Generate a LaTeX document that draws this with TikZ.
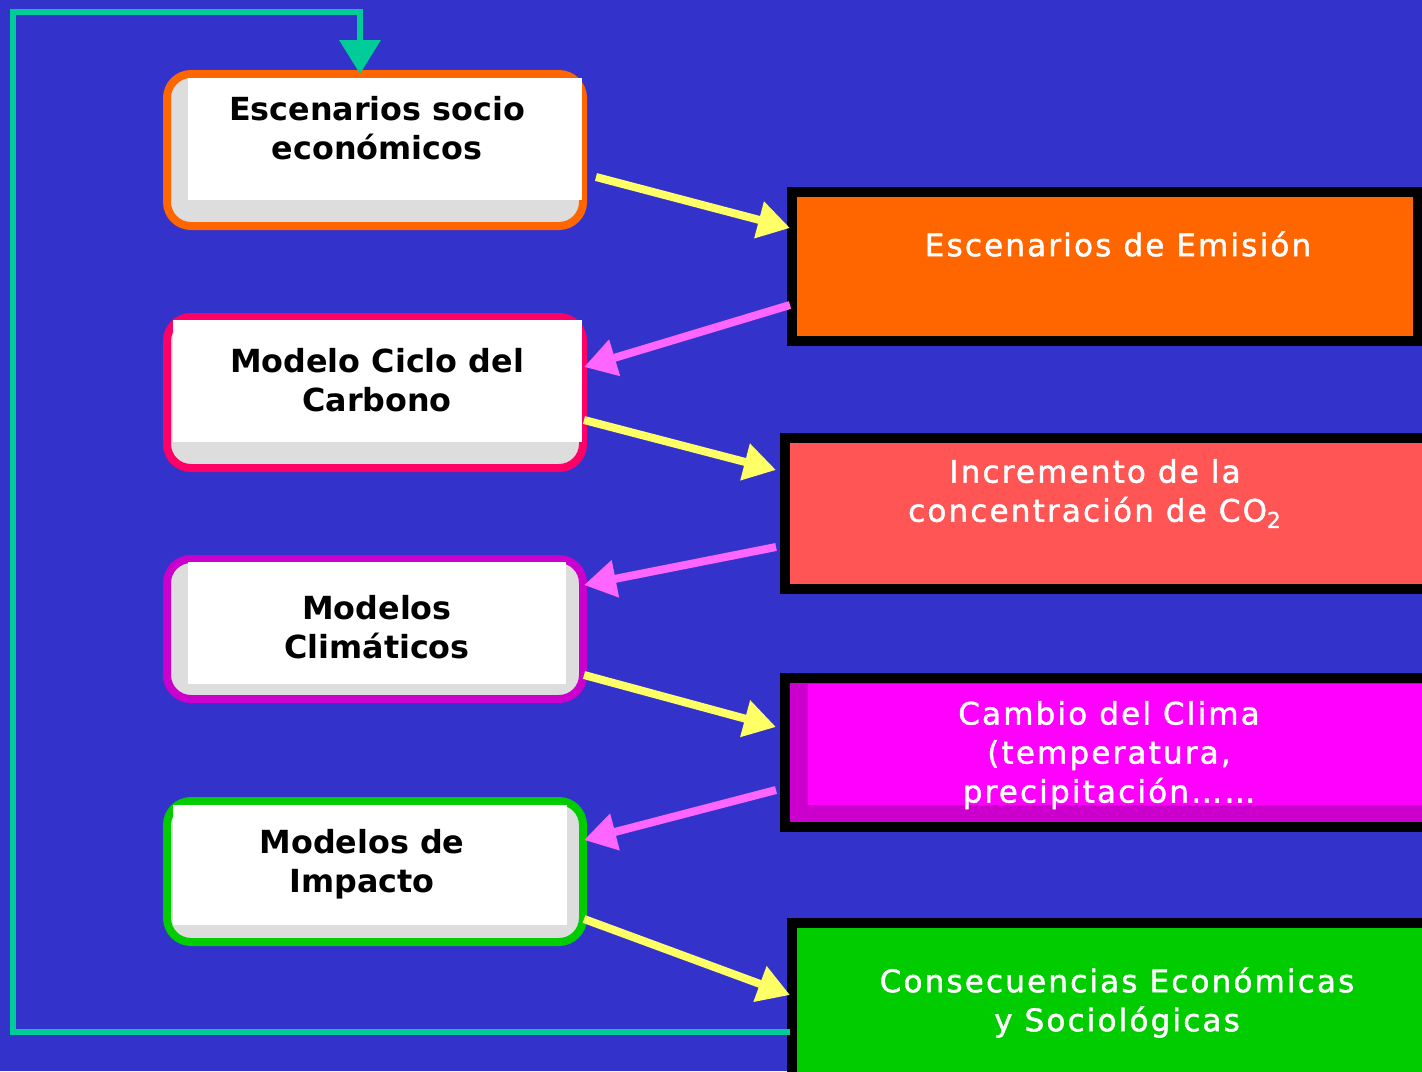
\documentclass[tikz,border=0pt]{standalone}
\usepackage{fontspec}
\usepackage{xcolor}
\usetikzlibrary{arrows.meta,calc}
\setmainfont{DejaVu Sans}
\newfontfamily\escfont[LetterSpace=7,FakeBold=1.5]{DejaVu Sans}

\definecolor{fondo}{HTML}{3333CC}
\definecolor{naranja}{HTML}{FF6600}
\definecolor{rosa}{HTML}{FF0066}
\definecolor{morado}{HTML}{CC00CC}
\definecolor{verde}{HTML}{00CC00}
\definecolor{gris}{HTML}{DDDDDD}
\definecolor{rojoclaro}{HTML}{FF5555}
\definecolor{fucsia}{HTML}{FF00FF}
\definecolor{amarillo}{HTML}{FFFF66}
\definecolor{rosaflecha}{HTML}{FF66FF}
\definecolor{turquesa}{HTML}{00CC99}

\tikzset{
	modelo/.style={rounded corners=12pt, fill=gris, line width=4pt, minimum width=208pt, inner sep=0pt, outer sep=0pt},
	escenario/.style={draw=black, line width=5pt, inner sep=0pt, outer sep=0pt},
	textomodelo/.style={font=\fontsize{15.9}{19.5}\selectfont\bfseries, align=center, text=black},
	textoescenario/.style={font=\escfont\fontsize{15.5}{19.5}\selectfont, align=center, text=white},
	flechaamarilla/.style={draw=amarillo, line width=4pt, -{Triangle[length=16pt,width=18pt]}, fill=amarillo},
	flecharosa/.style={draw=rosaflecha, line width=4pt, -{Triangle[length=16pt,width=18pt]}, fill=rosaflecha},
	retorno/.style={draw=turquesa, line width=3.4pt, -{Triangle[length=17pt,width=20pt]}}
}

\begin{document}
\begin{tikzpicture}[x=0.5pt,y=-0.5pt]
	\fill[fondo] (0,0) rectangle (1422,1071);
	\useasboundingbox (0,0) rectangle (1422,1071);

	% modelos (izquierda)
	\node[modelo, draw=naranja, minimum height=76pt] (socio) at (375,150) {};
	\fill[white] (188,78) rectangle (582,200);
	\node[textomodelo] (socio texto) at (377,128) {Escenarios socio\\econ\'omicos};

	\node[modelo, draw=rosa, minimum height=75.5pt] (carbono) at (375,392.5) {};
	\fill[white] (173,320) rectangle (582,442);
	\node[textomodelo] (carbono texto) at (377,380) {Modelo Ciclo del\\Carbono};

	\node[modelo, draw=morado, minimum height=70pt] (clima) at (375,629) {};
	\fill[white] (188,562) rectangle (566,684);
	\node[textomodelo] (clima texto) at (377,627) {Modelos\\Clim\'aticos};

	\node[modelo, draw=verde, minimum height=70.5pt] (impacto) at (375,871.5) {};
	\fill[white] (173,805) rectangle (567,925);
	\node[textomodelo] (impacto texto) at (362,864) {Modelos de\\Impacto};

	% escenarios (derecha)
	\node[escenario, fill=naranja, minimum width=313pt, minimum height=74.5pt] (emision) at (1105,266.5) {};
	\node[textoescenario] (emision texto) at (1118,244) {Escenarios de Emisi\'on};

	\node[escenario, fill=rojoclaro, minimum width=323.5pt, minimum height=75.5pt] (co2) at (1108.5,513.5) {};
	\node[textoescenario] (co2 texto) at (1095,493.5) {Incremento de la\\concentraci\'on de CO\textsubscript{2}};

	\node[escenario, fill=morado, minimum width=323.5pt, minimum height=74.5pt] (cambio) at (1108.5,752.5) {};
	\fill[fucsia] (808,684) rectangle (1422,805);
	\node[textoescenario] (cambio texto) at (1109,755) {Cambio del Clima\\(temperatura,\\precipitaci\'on\ldots\ldots};

	\node[escenario, fill=verde, minimum width=320pt, minimum height=77pt] (consecuencias) at (1112,999.5) {};
	\node[textoescenario] (consecuencias texto) at (1117,1002.5) {Consecuencias Econ\'omicas\\y Sociol\'ogicas};

	% flechas
	\draw[flechaamarilla] ([shift={(13,27)}]socio.east) -- ([shift={(-2,-38.5)}]emision.west);
	\draw[flecharosa] ([shift={(-2,38.5)}]emision.west) -- ([shift={(1,-25.5)}]carbono.east);
	\draw[flechaamarilla] ([shift={(1,27.5)}]carbono.east) -- ([shift={(-9,-43.5)}]co2.west);
	\draw[flecharosa] ([shift={(-9,33.5)}]co2.west) -- ([shift={(1,-44)}]clima.east);
	\draw[flechaamarilla] ([shift={(1,46)}]clima.east) -- ([shift={(-9,-25.5)}]cambio.west);
	\draw[flecharosa] ([shift={(-9,37.5)}]cambio.west) -- ([shift={(1,-31.5)}]impacto.east);
	\draw[flechaamarilla] ([shift={(1,47.5)}]impacto.east) -- ([shift={(-2,-4.5)}]consecuencias.west);

	% lazo de retorno
	\coordinate (esquina) at (13,12);
	\draw[retorno] ([shift={(-2,32.5)}]consecuencias.west) -| (esquina) -| ([xshift=-15*0.5pt]socio.north);
\end{tikzpicture}
\end{document}
